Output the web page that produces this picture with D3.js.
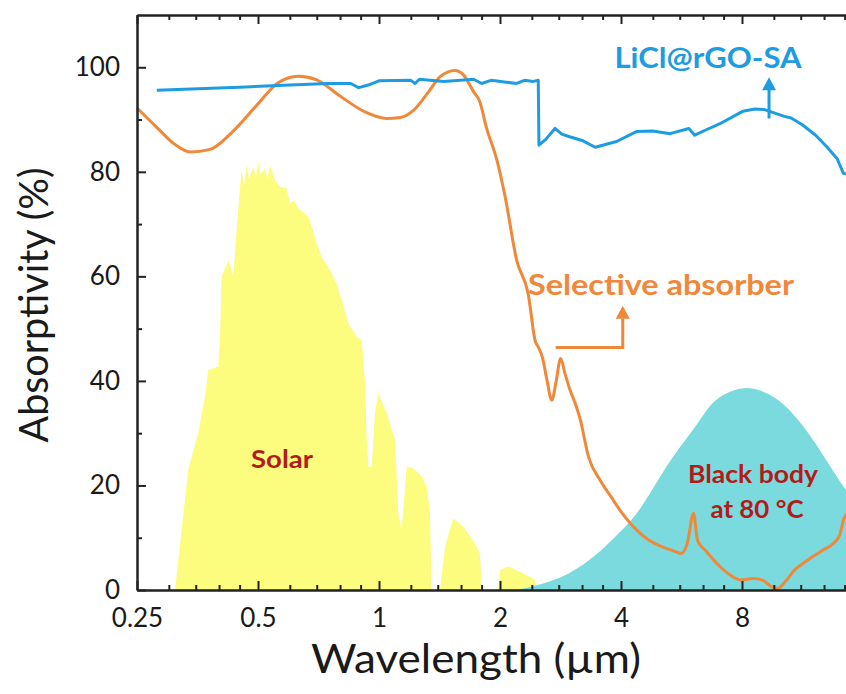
<!DOCTYPE html>
<meta charset="utf-8">
<style>
  body { margin: 0; background: #fff; }
  text { font-family: Lato, "Open Sans", sans-serif; }
</style>
<body>
<script src="https://d3js.org/d3.v7.min.js"></script>
<script>

// wavelength (um) / value (%) pairs
var solarWave = [0.311, 0.329, 0.335, 0.355, 0.369, 0.376, 0.398, 0.402, 0.406, 0.422, 0.434, 0.443, 0.455, 0.462, 0.468, 0.475, 0.487, 0.494, 0.501, 0.508, 0.520, 0.528, 0.536, 0.55, 0.567, 0.589, 0.600, 0.615, 0.630, 0.667, 0.680, 0.700, 0.720, 0.748, 0.785, 0.808, 0.839, 0.880, 0.906, 0.923, 0.932, 0.941, 0.959, 0.977, 0.996, 1.045, 1.096, 1.117, 1.139, 1.172, 1.218, 1.277, 1.314, 1.339, 1.352, 1.418, 1.460, 1.530, 1.621, 1.733, 1.783, 1.801, 1.980, 2.000, 2.098, 2.286, 2.444, 2.468];
var solarVal  = [0, 17.2, 22.9, 30, 37, 42.1, 42.7, 47.8, 59.9, 63.1, 60.0, 69.5, 80.3, 77.5, 81.2, 78.5, 81.0, 79.0, 81.9, 79.5, 80.6, 78.8, 81.3, 78.5, 77.1, 76.8, 74, 74.5, 73, 71.4, 69.5, 66.3, 63.7, 61.8, 58.6, 55.4, 51, 48.4, 47.8, 39.5, 28.7, 23.6, 23.6, 33.8, 37.6, 33.8, 28.7, 14.7, 11.5, 23.6, 23.3, 21.7, 19.8, 14.7, 0, 0, 8.3, 13.7, 12.1, 8.9, 7, 0, 0, 3.8, 4.5, 3.2, 1.9, 0];

var bodyWave = [2.2, 2.61, 3.0, 3.45, 3.9, 4.37, 5.1, 5.61, 6.3, 6.7, 7.3, 8.1, 8.9, 9.7, 10.5, 11.6, 12.5, 13.76, 14.5, 15.5];
var bodyVal  = [0, 1.3, 3.2, 6.4, 10.5, 14, 22.9, 27.4, 32.5, 35.8, 37.8, 38.9, 38.3, 36.8, 34.6, 30.5, 26.8, 21.7, 19.1, 16.5];

var absWave = [0.25, 0.28, 0.31, 0.339, 0.38, 0.43, 0.5, 0.56, 0.63, 0.7, 0.8, 0.92, 1.045, 1.13, 1.22, 1.32, 1.42, 1.545, 1.62, 1.72, 1.78, 1.85, 1.97, 2.06, 2.2, 2.35, 2.45, 2.49, 2.55, 2.62, 2.69, 2.76, 2.83, 2.9, 2.98, 3.1, 3.17, 3.32, 3.55, 3.78, 4.0, 4.37, 4.7, 5.05, 5.4, 5.65, 5.85, 6.06, 6.2, 6.5, 7.05, 7.5, 7.97, 8.5, 9.0, 9.4, 9.8, 10.3, 10.8, 11.4, 12.0, 12.7, 13.5, 14.0, 14.4, 14.8];
var absVal  = [92.2, 88.5, 85.3, 83.8, 84.3, 87.5, 93, 97.0, 98.3, 97.6, 94.5, 91.5, 90.2, 90.4, 91.8, 95, 98.2, 99.4, 98.6, 95.3, 93.5, 88.5, 81.9, 75.2, 63.1, 56.7, 47.5, 46.5, 44.5, 40, 36.3, 40, 44.3, 41.5, 38.5, 35, 32.5, 25.5, 21, 17.8, 15, 11.5, 9.5, 8.3, 7.5, 7.0, 9, 14.7, 9.5, 7.5, 4.5, 2.8, 1.9, 2.2, 1.9, 0.8, 0.3, 1.8, 3.8, 5.2, 6.4, 7.6, 8.9, 10.5, 14, 14.7];

var liclWave = [0.28, 0.45, 0.6, 0.75, 0.85, 0.89, 0.94, 1.0, 1.2, 1.23, 1.26, 1.45, 1.72, 1.8, 1.9, 2.05, 2.2, 2.3, 2.42, 2.49, 2.5, 2.6, 2.74, 2.85, 2.98, 3.2, 3.45, 3.9, 4.37, 4.8, 5.3, 5.9, 6.1, 6.5, 7.05, 8.05, 8.6, 9.1, 10.2, 10.6, 11.3, 12.2, 13.0, 13.8, 14.3, 14.8];
var liclVal  = [95.6, 96.2, 96.6, 96.9, 96.9, 96.1, 96.6, 97.4, 97.5, 96.9, 97.7, 97.3, 97.7, 96.9, 97.5, 97.2, 96.9, 97.5, 97.3, 97.5, 85.1, 86.2, 88.3, 87.2, 86.7, 86.0, 84.7, 85.8, 87.7, 87.8, 87.3, 88.3, 87.0, 88.0, 89.2, 91.6, 92.0, 91.9, 90.6, 90.3, 89.0, 87.0, 84.8, 82.5, 79.7, 79.5];

var majorTicksX = [0.25, 0.5, 1, 2, 4, 8, 16];
var tickLabelsX = ["0.25", "0.5", "1", "2", "4", "8", ""];
var minorSteps = [1.2, 1.4, 1.6, 1.8];
var majorTicksY = [0, 20, 40, 60, 80, 100];
var minorTicksY = [10, 30, 50, 70, 90];

var width = 846, height = 694;

var x = d3.scaleLog()
  .domain([0.25, 15])
  .range([137, 137 + 121 * Math.log2(60)]);
var y = d3.scaleLinear()
  .domain([0, 110])
  .range([590, 15]);

var svg = d3.select("body").append("svg")
  .attr("width", width)
  .attr("height", height);

var zip = function (a, b) { return a.map(function (v, i) { return [v, b[i]]; }); };

// solar spectrum
svg.append("path")
  .datum(zip(solarWave, solarVal))
  .attr("fill", "#fcfc7f")
  .attr("d", d3.area()
    .x(function (d) { return x(d[0]); })
    .y0(y(0))
    .y1(function (d) { return y(d[1]); }));

// black body
svg.append("path")
  .datum(zip(bodyWave, bodyVal))
  .attr("fill", "#7adadd")
  .attr("d", d3.area()
    .curve(d3.curveBasis)
    .x(function (d) { return x(d[0]); })
    .y0(y(0))
    .y1(function (d) { return y(d[1]); }));

var line = d3.line()
  .curve(d3.curveMonotoneX)
  .x(function (d) { return x(d[0]); })
  .y(function (d) { return y(d[1]); });

svg.append("path")
  .datum(zip(absWave, absVal))
  .attr("fill", "none")
  .attr("stroke", "#f0883a")
  .attr("stroke-width", 3)
  .attr("stroke-linejoin", "round")
  .attr("d", line);

svg.append("path")
  .datum(zip(liclWave, liclVal))
  .attr("fill", "none")
  .attr("stroke", "#1d9ce2")
  .attr("stroke-width", 3)
  .attr("stroke-linejoin", "round")
  .attr("d", d3.line()
    .x(function (d) { return x(d[0]); })
    .y(function (d) { return y(d[1]); }));

// axes
var minorX = [];
majorTicksX.forEach(function (b) {
  minorSteps.forEach(function (s) { minorX.push(b * s); });
});
minorX = minorX.filter(function (v) { return v < 15; });

var axisCol = "#222";
var xb = svg.append("g").attr("transform", "translate(0," + y(0) + ")")
  .call(d3.axisBottom(x).tickValues(majorTicksX)
    .tickFormat(function (d, i) { return tickLabelsX[i]; })
    .tickSizeInner(-9).tickSizeOuter(0).tickPadding(19));
xb.append("g").call(d3.axisBottom(x).tickValues(minorX).tickSizeInner(-5).tickSizeOuter(0).tickFormat(""));

var xt = svg.append("g").attr("transform", "translate(0," + y(110) + ")")
  .call(d3.axisTop(x).tickValues(majorTicksX).tickFormat("").tickSizeInner(-9).tickSizeOuter(0));
xt.append("g").call(d3.axisTop(x).tickValues(minorX).tickSizeInner(-5).tickSizeOuter(0).tickFormat(""));

var yl = svg.append("g").attr("transform", "translate(" + x(0.25) + ",0)")
  .call(d3.axisLeft(y).tickValues(majorTicksY).tickSizeInner(-9).tickSizeOuter(0).tickPadding(17));
yl.append("g").call(d3.axisLeft(y).tickValues(minorTicksY).tickSizeInner(-5).tickSizeOuter(0).tickFormat(""));

svg.selectAll(".domain").attr("stroke", axisCol).attr("stroke-width", 2);
svg.selectAll(".tick line").attr("stroke", axisCol).attr("stroke-width", 2);
svg.selectAll(".tick text")
  .attr("fill", "#1a1a1a")
  .style("font-size", "26px");

// axis titles
svg.append("text")
  .attr("x", 476).attr("y", 673)
  .attr("text-anchor", "middle")
  .attr("fill", "#1a1a1a")
  .style("font-size", "40px")
  .attr("textLength", 330)
  .attr("lengthAdjust", "spacingAndGlyphs")
  .text("Wavelength (\u00b5m)");

svg.append("text")
  .attr("transform", "translate(48,305) rotate(-90)")
  .attr("text-anchor", "middle")
  .attr("fill", "#1a1a1a")
  .style("font-size", "40px")
  .attr("textLength", 275)
  .attr("lengthAdjust", "spacingAndGlyphs")
  .text("Absorptivity (%)");

// annotations
var label = function (t, cx, by, col, size, len) {
  svg.append("text")
    .attr("x", cx).attr("y", by)
    .attr("text-anchor", "middle")
    .attr("fill", col)
    .style("font-size", size + "px")
    .style("font-weight", "bold")
    .attr("textLength", len)
    .attr("lengthAdjust", "spacingAndGlyphs")
    .text(t);
};
label("LiCl@rGO-SA", 708, 68, "#1d9ce2", 28, 187);
label("Selective absorber", 661, 295, "#f0883a", 28, 266);
label("Solar", 282, 468, "#b31b1b", 25, 62);
label("Black body", 753, 483, "#b31b1b", 25, 130);
label("at 80 \u00b0C", 757, 518, "#b31b1b", 25, 93);

var arrowHead = function (px, py, col) {
  svg.append("path")
    .attr("d", "M" + px + "," + py + "l-7,13l14,0z")
    .attr("fill", col);
};
// LiCl arrow
svg.append("line")
  .attr("x1", x(9.34)).attr("x2", x(9.34))
  .attr("y1", y(90.2)).attr("y2", y(96))
  .attr("stroke", "#1d9ce2").attr("stroke-width", 3);
arrowHead(x(9.34), y(98.1), "#1d9ce2");

// selective absorber arrow
svg.append("path")
  .attr("d", "M" + x(2.75) + "," + y(46.4) + "H" + x(4.04) + "V" + y(52))
  .attr("fill", "none")
  .attr("stroke", "#f0883a").attr("stroke-width", 3);
arrowHead(x(4.04), y(54.4), "#f0883a");

</script>
</body>
